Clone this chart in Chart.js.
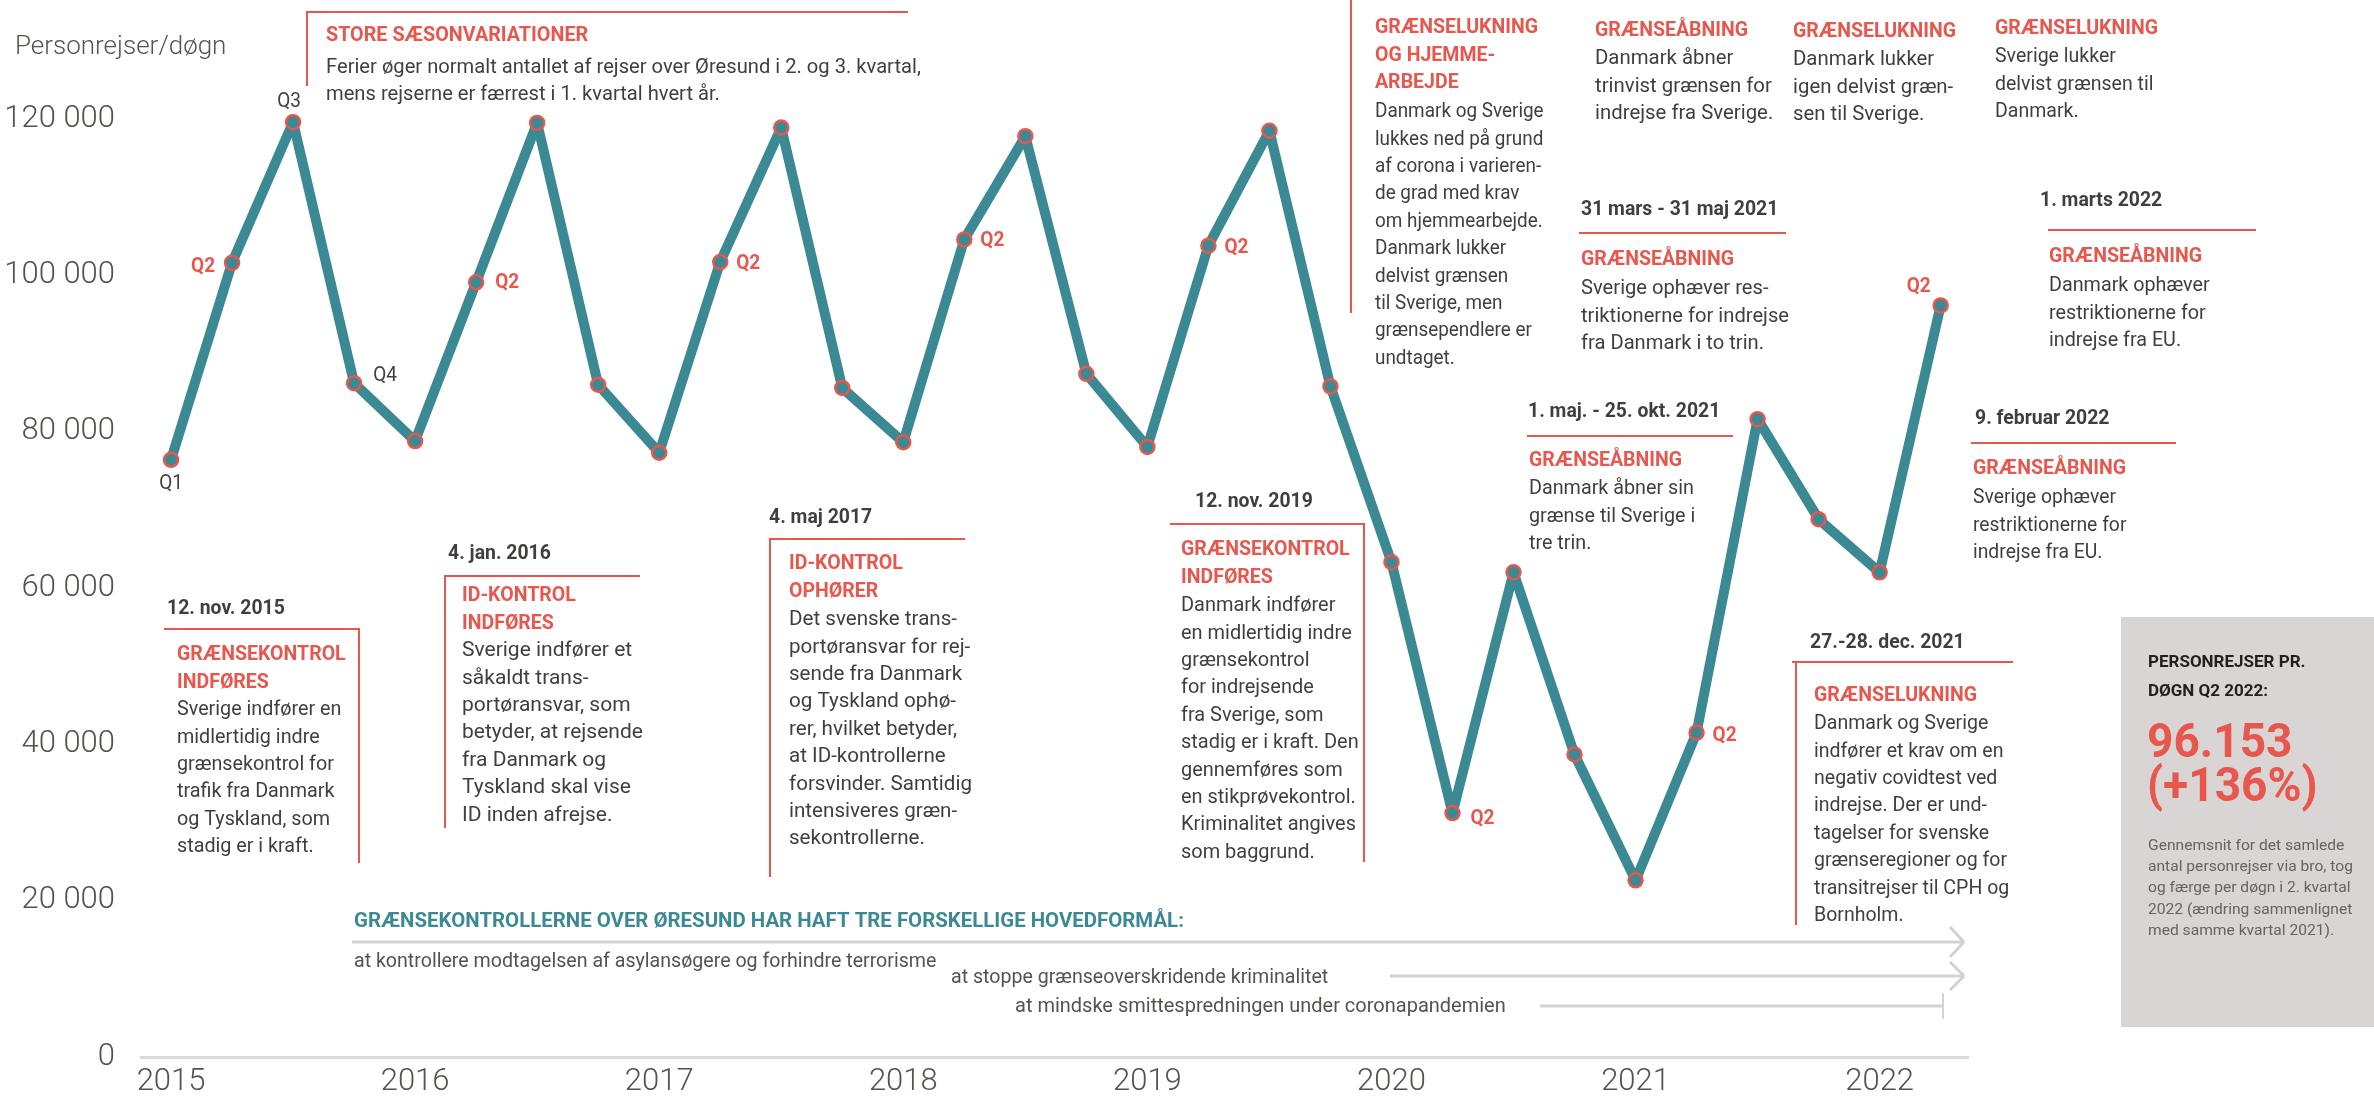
<!DOCTYPE html>
<html lang="da">
<head>
<meta charset="utf-8">
<script src="https://cdn.jsdelivr.net/npm/chart.js@4.4.1/dist/chart.umd.min.js"></script>
<style>
  html, body { margin: 0; padding: 0; background: #ffffff; }
  #wrap { width: 2374px; height: 1102px; position: relative; }
</style>
</head>
<body>
<div id="wrap"><canvas id="c" width="2374" height="1102"></canvas></div>
<script>
// ---------------- DATA ----------------
const years = [2015, 2016, 2017, 2018, 2019, 2020, 2021, 2022];
const yTicks = [0, 20000, 40000, 60000, 80000, 100000, 120000];
// Personrejser pr. døgn, kvartalsvis fra 2015 K1 til 2022 K2
const travellers = [
  76400, 101600, 119600, 86200,
  78800, 99100, 119500, 86000,
  77300, 101700, 118900, 85600,
  78650, 104600, 117800, 87400,
  78050, 103800, 118500, 85800,
  63300, 31200, 62000, 38700,
  22600, 41500, 81600, 68800,
  62000, 96153
];
// point labels: [index in travellers, text]
const pointLabelText = [
  [0, 'Q1'], [1, 'Q2'], [2, 'Q3'], [3, 'Q4'], [5, 'Q2'], [9, 'Q2'],
  [13, 'Q2'], [17, 'Q2'], [21, 'Q2'], [25, 'Q2'], [29, 'Q2']
];
const axisTitle = 'Personrejser/døgn';
const seasonTitle = 'STORE SÆSONVARIATIONER';
const seasonBody = [
  'Ferier øger normalt antallet af rejser over Øresund i 2. og 3. kvartal,',
  'mens rejserne er færrest i 1. kvartal hvert år.'
];
const noteDates = ['12. nov. 2015', '4. jan. 2016', '4. maj 2017', '12. nov. 2019', '', '', '', '',
  '31 mars - 31 maj 2021', '1. marts 2022', '1. maj. - 25. okt. 2021', '9. februar 2022', '27.-28. dec. 2021'];
const noteTitles = [
  ['GRÆNSEKONTROL', 'INDFØRES'],
  ['ID-KONTROL', 'INDFØRES'],
  ['ID-KONTROL', 'OPHØRER'],
  ['GRÆNSEKONTROL', 'INDFØRES'],
  ['GRÆNSELUKNING', 'OG HJEMME-', 'ARBEJDE'],
  ['GRÆNSEÅBNING'],
  ['GRÆNSELUKNING'],
  ['GRÆNSELUKNING'],
  ['GRÆNSEÅBNING'],
  ['GRÆNSEÅBNING'],
  ['GRÆNSEÅBNING'],
  ['GRÆNSEÅBNING'],
  ['GRÆNSELUKNING']
];
const noteBodies = [
  ['Sverige indfører en', 'midlertidig indre', 'grænsekontrol for', 'trafik fra Danmark', 'og Tyskland, som', 'stadig er i kraft.'],
  ['Sverige indfører et', 'såkaldt trans-', 'portøransvar, som', 'betyder, at rejsende', 'fra Danmark og', 'Tyskland skal vise', 'ID inden afrejse.'],
  ['Det svenske trans-', 'portøransvar for rej-', 'sende fra Danmark', 'og Tyskland ophø-', 'rer, hvilket betyder,', 'at ID-kontrollerne', 'forsvinder. Samtidig', 'intensiveres græn-', 'sekontrollerne.'],
  ['Danmark indfører', 'en midlertidig indre', 'grænsekontrol', 'for indrejsende', 'fra Sverige, som', 'stadig er i kraft. Den', 'gennemføres som', 'en stikprøvekontrol.', 'Kriminalitet angives', 'som baggrund.'],
  ['Danmark og Sverige', 'lukkes ned på grund', 'af corona i varieren-', 'de grad med krav', 'om hjemmearbejde.', 'Danmark lukker', 'delvist grænsen', 'til Sverige, men', 'grænsependlere er', 'undtaget.'],
  ['Danmark åbner', 'trinvist grænsen for', 'indrejse fra Sverige.'],
  ['Danmark lukker', 'igen delvist græn-', 'sen til Sverige.'],
  ['Sverige lukker', 'delvist grænsen til', 'Danmark.'],
  ['Sverige ophæver res-', 'triktionerne for indrejse', 'fra Danmark i to trin.'],
  ['Danmark ophæver', 'restriktionerne for', 'indrejse fra EU.'],
  ['Danmark åbner sin', 'grænse til Sverige i', 'tre trin.'],
  ['Sverige ophæver', 'restriktionerne for', 'indrejse fra EU.'],
  ['Danmark og Sverige', 'indfører et krav om en', 'negativ covidtest ved', 'indrejse. Der er und-', 'tagelser for svenske', 'grænseregioner og for', 'transitrejser til CPH og', 'Bornholm.']
];
const purposeTitle = 'GRÆNSEKONTROLLERNE OVER ØRESUND HAR HAFT TRE FORSKELLIGE HOVEDFORMÅL:';
const purposes = [
  'at kontrollere modtagelsen af asylansøgere og forhindre terrorisme',
  'at stoppe grænseoverskridende kriminalitet',
  'at mindske smittespredningen under coronapandemien'
];
const boxHead = ['PERSONREJSER PR.', 'DØGN Q2 2022:'];
const boxBig = ['96.153', '(+136%)'];
const boxSmall = ['Gennemsnit for det samlede', 'antal personrejser via bro, tog', 'og færge per døgn i 2. kvartal', '2022 (ændring sammenlignet', 'med samme kvartal 2021).'];

// ---------------- STYLE / LAYOUT ----------------
const TEAL = '#3a8993';
const RED = '#e8574e';
const DARK = '#433e3e';
const GREY_TXT = '#57524f';
const FAM = 'Roboto, "Open Sans", sans-serif';

// layout of note blocks (pixel positions), same order as texts above
const noteLayout = [
  { dx: 167, dy: 609, rule: [164, 359, 629], vline: [359, 863], tx: 177, ty: 655, by: 710, sx: 0.94 },
  { dx: 448, dy: 554, rule: [445, 640, 576], vline: [445, 828], tx: 462, ty: 596, by: 651, sx: 1.0 },
  { dx: 769, dy: 518, rule: [770, 965, 539], vline: [770, 877], tx: 789, ty: 564, by: 620, sx: 0.98 },
  { dx: 1195, dy: 502, rule: [1170, 1364, 524], vline: [1364, 862], tx: 1181, ty: 550, by: 606, sx: 0.95 },
  { vtop: [1351, 0, 313], tx: 1375, ty: 28, by: 112, sx: 0.9 },
  { tx: 1595, ty: 31, by: 59, sx: 0.97 },
  { tx: 1793, ty: 32, by: 60, sx: 0.97 },
  { tx: 1995, ty: 29, by: 57, sx: 0.93 },
  { dx: 1581, dy: 210, rule: [1579, 1786, 233], tx: 1581, ty: 260, by: 289, sx: 0.96 },
  { dx: 2040, dy: 201, rule: [2048, 2256, 230], tx: 2049, ty: 257, by: 286, sx: 0.94 },
  { dx: 1528, dy: 412, rule: [1527, 1733, 436], tx: 1529, ty: 461, by: 489, sx: 0.94 },
  { dx: 1975, dy: 419, rule: [1971, 2176, 443], tx: 1973, ty: 469, by: 498, sx: 0.92 },
  { dx: 1810, dy: 643, rule: [1792, 2013, 662], vline: [1796, 925], tx: 1814, ty: 696, by: 724, sx: 0.93 }
];
const LH = 27.4;
// point label offsets relative to the point: [dx, dy]
const pointLabelOffset = {
  0: [0, 24], 1: [-29, 4], 2: [-4, -20], 3: [31, -7], 5: [31, 1], 9: [28, 2],
  13: [28, 2], 17: [28, 2], 21: [30, 6], 25: [28, 3], 29: [-22, -18]
};

function txt(ctx, s, x, y, font, color, sx, align) {
  ctx.save();
  ctx.font = font;
  ctx.fillStyle = color;
  ctx.textBaseline = 'middle';
  ctx.textAlign = align || 'left';
  ctx.translate(x, y);
  ctx.scale(sx || 1, 1);
  ctx.fillText(s, 0, 0);
  ctx.restore();
}
function line(ctx, x1, y1, x2, y2, color, w) {
  ctx.save();
  ctx.strokeStyle = color;
  ctx.lineWidth = w;
  ctx.beginPath();
  ctx.moveTo(x1, y1);
  ctx.lineTo(x2, y2);
  ctx.stroke();
  ctx.restore();
}

const notesPlugin = {
  id: 'notes',
  beforeDatasetsDraw(chart) {
    const ctx = chart.ctx;
    const fDate = 'bold 20px ' + FAM;
    const fTitle = 'bold 21px ' + FAM;
    const fBody = '400 21px ' + FAM;

    // axis title
    txt(ctx, axisTitle, 15, 47, '300 26px ' + FAM, GREY_TXT, 1);

    // season note
    line(ctx, 307, 12, 908, 12, RED, 2);
    line(ctx, 307, 11, 307, 86, RED, 2);
    txt(ctx, seasonTitle, 326, 36, 'bold 21px ' + FAM, RED, 0.94);
    seasonBody.forEach((s, i) => txt(ctx, s, 326, 68 + i * 26.5, '400 21px ' + FAM, DARK, 0.96));

    // note blocks
    noteLayout.forEach((L, k) => {
      if (L.rule) line(ctx, L.rule[0], L.rule[2], L.rule[1], L.rule[2], RED, 2);
      if (L.vline) line(ctx, L.vline[0], L.rule[2] - 1, L.vline[0], L.vline[1], RED, 2);
      if (L.vtop) line(ctx, L.vtop[0], L.vtop[1], L.vtop[0], L.vtop[2], RED, 2);
      if (noteDates[k]) txt(ctx, noteDates[k], L.dx, L.dy, fDate, DARK, 0.97);
      noteTitles[k].forEach((s, i) => txt(ctx, s, L.tx, L.ty + i * LH, fTitle, RED, 0.93));
      noteBodies[k].forEach((s, i) => txt(ctx, s, L.tx, L.by + i * LH, fBody, DARK, L.sx));
    });

    // purposes
    txt(ctx, purposeTitle, 354, 922, 'bold 20px ' + FAM, TEAL, 1.02);
    const GL = '#d5d1d0';
    line(ctx, 352, 942, 1963, 942, GL, 3);
    line(ctx, 1950, 927, 1964, 942, GL, 3); line(ctx, 1964, 942, 1950, 957, GL, 3);
    txt(ctx, purposes[0], 354, 962, '400 20px ' + FAM, GREY_TXT, 0.98);
    line(ctx, 1390, 976, 1963, 976, GL, 3);
    line(ctx, 1950, 962, 1964, 976, GL, 3); line(ctx, 1964, 976, 1950, 990, GL, 3);
    txt(ctx, purposes[1], 951, 978, '400 20px ' + FAM, GREY_TXT, 0.98);
    line(ctx, 1540, 1006, 1943, 1006, GL, 3);
    line(ctx, 1943, 993, 1943, 1019, GL, 2);
    txt(ctx, purposes[2], 1015, 1007, '400 20px ' + FAM, GREY_TXT, 1.0);

    // grey box
    ctx.save();
    ctx.fillStyle = '#d9d5d4';
    ctx.fillRect(2121, 617, 253, 410);
    ctx.restore();
    boxHead.forEach((s, i) => txt(ctx, s, 2148, 663 + i * 29, 'bold 17px ' + FAM, '#231f1f', 1));
    boxBig.forEach((s, i) => txt(ctx, s, 2147, 745 + i * 44, 'bold 49px ' + FAM, RED, 0.94));
    boxSmall.forEach((s, i) => txt(ctx, s, 2148, 846 + i * 21.3, '400 15px ' + FAM, '#686261', 1.04));
  },
  afterDatasetsDraw(chart) {
    const ctx = chart.ctx;
    const meta = chart.getDatasetMeta(0);
    pointLabelText.forEach(([idx, s]) => {
      const p = meta.data[idx];
      const o = pointLabelOffset[idx] || [0, 0];
      const red = s === 'Q2';
      txt(ctx, s, p.x + o[0], p.y + o[1], (red ? 'bold 20px ' : '400 20px ') + FAM, red ? RED : DARK, 0.95, 'center');
    });
  }
};

const fmt = v => String(v).replace(/\B(?=(\d{3})+(?!\d))/g, ' ');

new Chart(document.getElementById('c'), {
  type: 'line',
  data: {
    datasets: [{
      data: travellers.map((v, i) => ({ x: years[0] + i / 4, y: v })),
      borderColor: TEAL,
      borderWidth: 10,
      borderJoinStyle: 'round',
      pointRadius: 7,
      pointHoverRadius: 7,
      pointBackgroundColor: TEAL,
      pointBorderColor: RED,
      pointBorderWidth: 2.5,
      tension: 0,
      fill: false,
      clip: false
    }]
  },
  options: {
    responsive: false,
    animation: false,
    events: [],
    layout: { padding: { top: 119, right: 406, bottom: 0, left: 0 } },
    plugins: { legend: { display: false }, tooltip: { enabled: false } },
    scales: {
      x: {
        type: 'linear',
        min: 2014.877,
        max: 2022.362,
        afterBuildTicks: s => { s.ticks = years.map(v => ({ value: v })); },
        afterFit: s => { s.height = 45; },
        grid: { display: false, drawTicks: false },
        border: { display: true, color: '#dad8d8', width: 3 },
        ticks: {
          callback: v => String(v),
          autoSkip: false,
          maxRotation: 0,
          padding: 7,
          color: GREY_TXT,
          font: { family: FAM, size: 31, weight: '300' }
        }
      },
      y: {
        min: 0,
        max: 120000,
        afterBuildTicks: s => { s.ticks = yTicks.map(v => ({ value: v })); },
        afterFit: s => { s.width = 141; },
        grid: { display: false, drawTicks: false },
        border: { display: false },
        ticks: {
          callback: v => fmt(v),
          padding: 26,
          color: GREY_TXT,
          font: { family: FAM, size: 31, weight: '300' }
        }
      }
    }
  },
  plugins: [notesPlugin]
});
</script>
</body>
</html>
